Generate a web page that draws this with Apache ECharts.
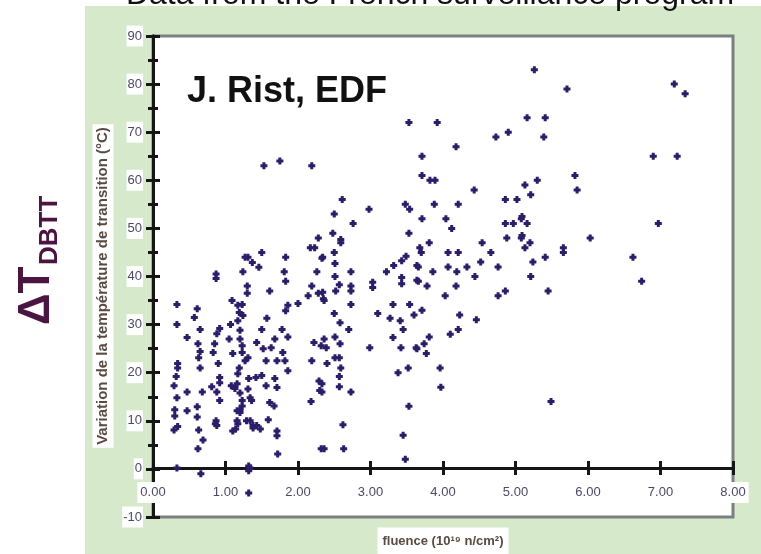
<!DOCTYPE html>
<html>
<head>
<meta charset="utf-8">
<title>Delta T DBTT vs fluence</title>
<script src="https://cdn.jsdelivr.net/npm/echarts@6/dist/echarts.min.js"></script>
<style>
  html, body { margin: 0; padding: 0; background: #fff; }
  #chart { width: 761px; height: 554px; }
</style>
</head>
<body>
<div id="chart"></div>
<script>
// tick labels
var xTicks = [0, 1, 2, 3, 4, 5, 6, 7, 8]
var yTicks = [-10, 0, 10, 20, 30, 40, 50, 60, 70, 80, 90]

// fluence (10^19 n/cm2)
var fluence = [
  7.19, 7.34, 6.90, 7.23, 6.97, 6.62, 6.74,
  5.26, 5.71, 5.16, 5.41, 5.39, 5.30, 5.13, 5.21, 5.82, 5.85, 5.09, 5.16, 6.03, 5.09,
  5.20, 5.13, 5.66, 5.66, 5.41, 5.24, 5.21, 5.45, 5.49,
  3.92, 4.18, 3.71, 4.73, 4.90, 3.71, 3.82, 3.89, 4.43, 3.88, 4.21, 4.86, 5.02, 3.71,
  4.04, 4.12, 4.86, 4.97, 5.08, 4.88, 5.08, 3.81, 3.68, 3.70, 4.07, 4.21, 4.54, 4.66,
  3.66, 3.86, 4.07, 4.19, 4.33, 4.52, 4.76, 4.44, 3.66, 3.78, 4.18, 4.03, 4.76, 4.86,
  3.71, 4.23, 4.46, 4.21, 4.10, 3.81, 3.74, 3.64, 3.77, 3.96, 3.97,
  3.53, 2.61, 2.50, 2.98, 2.76, 3.48, 3.54, 3.53, 2.48, 2.59, 2.59, 2.34, 2.50, 2.51,
  2.51, 2.73, 2.73, 2.73, 2.57, 2.52, 2.34, 2.36, 3.03, 3.03, 3.22, 3.32, 3.43, 3.49,
  3.43, 3.43, 3.64, 3.64, 2.73, 2.50, 2.58, 2.70, 2.51, 2.58, 2.36, 2.39, 2.51, 2.57,
  2.40, 2.59, 2.57, 2.57, 2.33, 2.33, 2.73, 3.10, 3.27, 3.41, 3.45, 3.31, 3.54, 3.60,
  3.31, 2.99, 3.42, 3.63, 3.52, 3.38, 3.53, 2.62, 3.45, 2.36, 2.63, 3.48,
  1.53, 1.75, 2.19, 2.28, 2.17, 2.23, 2.33, 1.31, 1.27, 1.50, 1.37, 1.46, 1.83, 1.24,
  1.81, 1.83, 2.26, 1.30, 1.30, 1.61, 2.19, 2.14, 2.28, 2.35, 1.86, 1.83, 2.00, 1.23,
  1.19, 1.24, 1.17, 1.57, 1.50, 1.20, 1.78, 1.86, 1.20, 1.68, 2.22, 2.32, 1.23, 1.43,
  1.52, 1.63, 1.23, 1.31, 1.27, 1.79, 1.56, 1.71, 1.82, 2.19, 1.86, 1.19, 1.17, 1.32,
  1.42, 1.50, 1.56, 1.68, 1.71, 2.29, 2.30, 2.18, 1.34, 1.23, 1.61, 1.67, 1.20, 1.59,
  1.17, 1.34, 1.43, 1.48, 1.71, 1.71, 1.72, 2.32, 1.32, 1.32,
  0.87, 0.87, 0.33, 0.61, 0.57, 0.33, 0.65, 0.47, 0.92, 0.88, 0.85, 0.62, 0.65, 0.83,
  0.63, 0.34, 0.34, 0.90, 0.65, 0.32, 0.92, 0.92, 0.29, 0.81, 0.47, 0.68, 0.88, 0.33,
  0.92, 0.30, 0.47, 0.61, 0.30, 0.61, 0.87, 0.88, 0.34, 0.29, 0.63, 0.69, 0.62, 0.33, 0.66,
  1.14, 1.16, 1.16, 1.17, 1.34, 1.32, 1.10, 0.86, 1.38, 1.08, 1.13, 1.20, 1.31, 1.20,
  1.23, 1.36, 1.16, 1.29, 1.38, 1.09, 1.05, 1.10, 1.07
]

// shift of the transition temperature (deg C), same order as fluence
var shift = [
  80, 78, 65, 65, 51, 44, 39,
  83, 79, 73, 73, 69, 60, 59, 57, 61, 58, 52.5, 51, 48, 48.5,
  47, 46, 46, 45, 44, 43, 40, 37, 14,
  72, 67, 65, 69, 70, 61, 60, 60, 58, 55, 55, 56, 56, 52,
  52, 50, 51, 51, 52, 48, 48, 47, 46, 45, 45, 45, 47, 45,
  42, 41, 42, 41, 42, 43, 42, 40, 39, 38, 38, 36, 36, 37,
  33, 32, 31, 29, 28, 27.4, 26, 25, 24, 21, 17,
  72, 56, 53, 54, 51, 55, 54, 49, 49, 47.7, 47, 44, 45, 42.7,
  40, 41, 38, 37, 38.3, 37, 36.7, 35, 38.8, 37.7, 41, 42.3, 43.3, 44.2,
  39.8, 38.5, 42.3, 39.2, 34.2, 32.3, 30.4, 29, 27.4, 26, 27, 25.2, 23.1, 23.1,
  21.9, 21, 19.2, 17.1, 17.7, 16, 16, 32.3, 31.3, 30.8, 29, 34.2, 34.2, 32,
  27.3, 25.2, 25.2, 25.2, 21, 20, 13, 9.2, 7, 4.2, 4.2, 2,
  63, 64, 63, 48, 46, 46, 43.8, 44, 44, 45, 42.9, 41.9, 44, 41,
  41, 39, 41, 38, 36.5, 37, 38, 36, 36.5, 35.4, 34, 32.9, 34.4, 34.2,
  32.5, 31.9, 30.8, 31.3, 29, 28.8, 29, 27.4, 27, 27, 26.3, 25.6, 25.6, 26.3,
  25, 25.2, 24.2, 23.1, 22.5, 24.2, 22.5, 22.5, 22.5, 22.5, 20.4, 21, 19.8, 18.8,
  19, 19.4, 17.3, 18.8, 16.9, 18.3, 16.3, 14, 14.8, 14.2, 13.8, 13.1, 12.3, 10.2,
  9.4, 10, 9, 8.3, 7.9, 6.9, 3.1, 4.2, 0.6, -0.4,
  39.6, 40.5, 34.2, 33.3, 31.5, 30, 29, 27.3, 29.2, 28.1, 26, 26, 24.4, 24.2,
  23.1, 21.9, 21, 21.9, 21, 19.2, 19, 17.9, 17.3, 17.1, 16, 16, 16, 14.8,
  14.2, 12.3, 12.1, 12.9, 11, 10.8, 10, 9, 8.8, 8.1, 8.1, 6, 4.2, 0.2, -1,
  8.3, 12.1, 17.7, 34, 0.2, -5, 7.9, 9.4, 8.5, 17.3, 16.7, 15.8, 16.6, 11.7,
  13.1, 14.2, 10, 10, 9, 35, 27, 24, 30
]

var points = fluence.map(function (f, i) { return [f, shift[i]] })

var font = 'Liberation Sans, Arial, sans-serif'
var labelColor = '#4d4868'

var myChart = echarts.init(document.getElementById('chart'), null, { renderer: 'canvas' })

// the x axis sits on y = 0, which is 49px above the bottom of the grid
function xAxisCfg (inside, labels) {
  return {
    type: 'value',
    position: 'bottom',
    offset: -49,
    min: xTicks[0],
    max: xTicks[xTicks.length - 1],
    interval: 1,
    axisLine: { show: true, onZero: false, lineStyle: { color: '#161616', width: 3 } },
    axisTick: { show: true, inside: inside, length: 7, lineStyle: { color: '#161616', width: 3 } },
    axisLabel: {
      show: labels,
      margin: 14,
      formatter: function (v) { return v.toFixed(2) },
      fontFamily: font,
      fontSize: 13,
      color: labelColor,
      backgroundColor: '#fff',
      padding: [4, 3]
    },
    splitLine: { show: false }
  }
}

function yAxisCfg (inside, labels) {
  return {
    type: 'value',
    position: 'left',
    min: yTicks[0],
    max: yTicks[yTicks.length - 1],
    interval: 10,
    axisLine: { show: true, onZero: false, lineStyle: { color: '#161616', width: 3 } },
    axisTick: { show: true, inside: inside, length: 7, lineStyle: { color: '#161616', width: 3 } },
    minorTick: { show: true, splitNumber: 2, length: 5, lineStyle: { color: '#161616', width: 3 } },
    axisLabel: {
      show: labels,
      margin: 10,
      fontFamily: font,
      fontSize: 13,
      color: labelColor,
      backgroundColor: '#fff',
      padding: [4, 1]
    },
    splitLine: { show: false },
    minorSplitLine: { show: false }
  }
}

var option = {
  backgroundColor: '#fff',
  animation: false,
  grid: {
    left: 153,
    top: 36,
    right: 28,
    bottom: 37,
    show: true,
    backgroundColor: '#fff',
    borderColor: '#7c7f80',
    borderWidth: 3
  },
  xAxis: [xAxisCfg(false, true), xAxisCfg(true, false)],
  yAxis: [yAxisCfg(false, true), yAxisCfg(true, false)],
  graphic: [
    // green panel behind the plot
    { type: 'rect', z: -10, shape: { x: 85, y: 6, width: 676, height: 548 }, style: { fill: '#d6e9cb' } },
    {
      type: 'text', z: 100, x: 430, y: 11,
      style: {
        text: 'Data from the French surveillance program',
        font: '32px ' + font, fill: '#111', textAlign: 'center', textVerticalAlign: 'bottom'
      }
    },
    {
      type: 'text', z: 100, x: 187, y: 92,
      style: {
        text: 'J. Rist, EDF',
        font: 'bold 36px ' + font, fill: '#111', textAlign: 'left', textVerticalAlign: 'middle'
      }
    },
    {
      type: 'text', z: 100, x: 37, y: 325, rotation: Math.PI / 2,
      style: {
        text: 'ΔT',
        font: 'bold 44px ' + font, fill: '#4a1540', textAlign: 'left', textVerticalAlign: 'middle'
      }
    },
    {
      type: 'text', z: 100, x: 50, y: 265, rotation: Math.PI / 2,
      style: {
        text: 'DBTT',
        font: 'bold 26px ' + font, fill: '#4a1540', textAlign: 'left', textVerticalAlign: 'middle'
      }
    },
    {
      type: 'text', z: 100, x: 103, y: 286, rotation: Math.PI / 2,
      style: {
        text: 'Variation de la température de transition (°C)',
        font: 'bold 15px ' + font, fill: '#5a4a40', textAlign: 'center', textVerticalAlign: 'middle',
        backgroundColor: '#fff', padding: [3, 3]
      }
    },
    {
      type: 'text', z: 100, x: 443, y: 541,
      style: {
        text: 'fluence (10¹⁹ n/cm²)',
        font: 'bold 13px ' + font, fill: '#5a4a40', textAlign: 'center', textVerticalAlign: 'middle',
        backgroundColor: '#fff', padding: [7, 5]
      }
    }
  ],
  series: [
    {
      type: 'scatter',
      xAxisIndex: 0,
      yAxisIndex: 0,
      data: points,
      symbol: 'path://M2,0H5V2H7V5H5V7H2V5H0V2H2Z',
      symbolSize: 7,
      itemStyle: { color: '#2c1c6c', opacity: 1 },
      z: 5
    }
  ]
}

myChart.setOption(option)
</script>
</body>
</html>
